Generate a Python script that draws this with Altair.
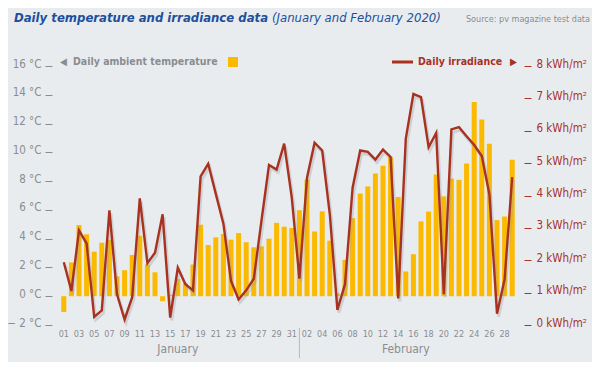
import altair as alt
import pandas as pd

# ---------------- data ----------------
days_jan = ["01","02","03","04","05","06","07","08","09","10","11","12","13","14","15","16",
            "17","18","19","20","21","22","23","24","25","26","27","28","29","30","31"]
days_feb = ["01","02","03","04","05","06","07","08","09","10","11","12","13","14","15","16",
            "17","18","19","20","21","22","23","24","25","26","27","28","29"]

temp_jan = [-1.1, 2.35, 4.95, 4.3, 3.1, 3.72, 3.9, 1.38, 1.8, 2.87, 4.2, 2.2, 1.66, -0.35, 0.1, 1.2,
            0.9, 2.2, 4.97, 3.56, 4.09, 4.32, 3.93, 4.39, 3.75, 3.4, 3.47, 4.0, 5.1, 4.83, 4.74]
temp_feb = [5.98, 8.1, 4.5, 5.9, 3.86, 0.2, 2.53, 5.43, 7.13, 7.63, 8.53, 9.06, 9.7, 6.9, 1.72, 2.92,
            5.2, 5.88, 8.46, 6.94, 8.18, 8.09, 9.22, 13.5, 12.28, 10.6, 5.29, 5.54, 9.49]

irr_jan = [1.94, 1.05, 2.92, 2.52, 0.25, 0.45, 3.54, 0.95, 0.17, 0.86, 3.91, 1.91, 2.23, 3.42, 0.23, 1.77,
           1.26, 1.07, 4.59, 4.98, 4.05, 3.13, 1.36, 0.79, 1.07, 1.43, 3.21, 4.94, 4.8, 5.6, 3.93]
irr_feb = [1.43, 4.55, 5.63, 5.39, 3.42, 0.47, 1.26, 4.24, 5.39, 5.35, 5.11, 5.42, 5.19, 0.82, 5.76, 7.14,
           7.04, 5.49, 5.93, 0.95, 6.04, 6.11, 5.83, 5.56, 5.22, 4.03, 0.35, 1.41, 4.57]

# shown x tick labels: odd days in January, even days in February
jan_shown = ["01","03","05","07","09","11","13","15","17","19","21","23","25","27","29","31"]
feb_shown = ["02","04","06","08","10","12","14","16","18","20","22","24","26","28"]
tick_labels = [d if d in jan_shown else "" for d in days_jan] + [d if d in feb_shown else "" for d in days_feb]

temp_ticks = [-2, 0, 2, 4, 6, 8, 10, 12, 14, 16]
irr_ticks = [0, 1, 2, 3, 4, 5, 6, 7, 8]

months = ["January", "February"]

df = pd.DataFrame({
    "idx": list(range(len(days_jan) + len(days_feb))),
    "temp": temp_jan + temp_feb,
    "irr": irr_jan + irr_feb,
})

# ---------------- style ----------------
FONT = "DejaVu Sans Condensed, DejaVu Sans, sans-serif"
BG = "#e9ecef"
YELLOW = "#fbb900"
RED = "#a8321f"
GRAY = "#8a8d90"
BLUE = "#1d4f9c"
W, H = 456, 259

label_js = "[" + ",".join("'" + t + "'" for t in tick_labels) + "]"

x_enc = alt.X(
    "idx:O",
    scale=alt.Scale(paddingInner=0.34, paddingOuter=0.17),
    axis=alt.Axis(
        labelExpr=label_js + "[datum.value]",
        ticks=False, domain=False, grid=False, labelAngle=0,
        labelFont=FONT, labelFontSize=9, labelColor=GRAY, labelPadding=4,
        title=None,
    ),
)

bars = alt.Chart(df).mark_bar(color=YELLOW).encode(
    x=x_enc,
    y=alt.Y(
        "temp:Q",
        scale=alt.Scale(domain=[-2, 16], nice=False),
        axis=alt.Axis(
            values=temp_ticks, title=None, grid=False, domain=False,
            offset=8, tickSize=7, tickColor=GRAY, labelPadding=4,
            labelBaseline="alphabetic", labelOffset=1,
            labelExpr="datum.value < 0 ? '\u2212 ' + abs(datum.value) + ' \u00b0C' : datum.value + ' \u00b0C'",
            labelFont=FONT, labelFontSize=11.5, labelColor=GRAY,
        ),
    ),
)

irr_scale = alt.Scale(domain=[0, 8], nice=False)

shadow = alt.Chart(df).transform_calculate(sh="datum.irr - 0.09").mark_line(
    color="#9aa0a6", strokeWidth=3, opacity=0.35
).encode(
    x=alt.X("idx:O", bandPosition=0.8),
    y=alt.Y("sh:Q", scale=irr_scale, axis=None),
)

line = alt.Chart(df).mark_line(color=RED, strokeWidth=2.4).encode(
    x=x_enc,
    y=alt.Y(
        "irr:Q",
        scale=irr_scale,
        axis=alt.Axis(
            orient="right", values=irr_ticks, title=None, grid=False, domain=False,
            offset=8, tickSize=7, tickColor=RED, labelPadding=5,
            labelBaseline="alphabetic", labelOffset=1,
            labelExpr="datum.value + ' kWh/m\u00b2'",
            labelFont=FONT, labelFontSize=11.5, labelColor=RED,
        ),
    ),
)

one = pd.DataFrame({"a": [0]})

def txt(text, x, y, size, color, weight="normal", style="normal", align="left"):
    return alt.Chart(one).mark_text(
        text=text, font=FONT, fontSize=size, color=color, fontWeight=weight,
        fontStyle=style, align=align, baseline="middle",
    ).encode(x=alt.value(x), y=alt.value(y))

title1 = txt("Daily temperature and irradiance data", -46, -48, 13, BLUE, "bold", "italic")
title2 = txt("(January and February 2020)", 212, -48, 13, BLUE, "normal", "italic")
source = txt("Source: pv magazine test data", 530, -47, 9, GRAY, align="right")

leg_l_arrow = txt("\u25c0", 0, -4, 10, GRAY)
leg_l_text = txt("Daily ambient temperature", 13, -4, 10.5, GRAY, "bold")
leg_l_sq = alt.Chart(one).mark_square(size=100, color=YELLOW, opacity=1).encode(
    x=alt.value(173), y=alt.value(-4))

leg_r_line = alt.Chart(one).mark_rule(color=RED, strokeWidth=3).encode(
    x=alt.value(332), x2=alt.value(353), y=alt.value(-4))
leg_r_text = txt("Daily irradiance", 358, -4, 10.5, RED, "bold")
leg_r_arrow = txt("\u25b6", 450, -4, 10, RED)

month_df = pd.DataFrame({"month": months, "idx": [15, 45]})
month_text = alt.Chart(month_df).mark_text(
    font=FONT, fontSize=12, color=GRAY, baseline="middle"
).encode(x=alt.X("idx:O"), y=alt.value(H + 24), text="month:N")

sep = alt.Chart(pd.DataFrame({"idx": [31]})).mark_rule(color="#b5b8bb", strokeWidth=1).encode(
    x=alt.X("idx:O"), y=alt.value(H + 3), y2=alt.value(H + 33))

chart = alt.layer(
    bars, shadow, line, month_text, sep,
    title1, title2, source,
    leg_l_arrow, leg_l_text, leg_l_sq, leg_r_line, leg_r_text, leg_r_arrow,
).resolve_scale(y="independent").properties(
    width=W, height=H,
    padding={"left": 52, "top": 58, "right": 76, "bottom": 37},
    autosize=alt.AutoSizeParams(type="none"),
    background=BG,
).configure_view(stroke=None)

chart.save("out.html", embed_options={"renderer": "svg", "actions": False})
